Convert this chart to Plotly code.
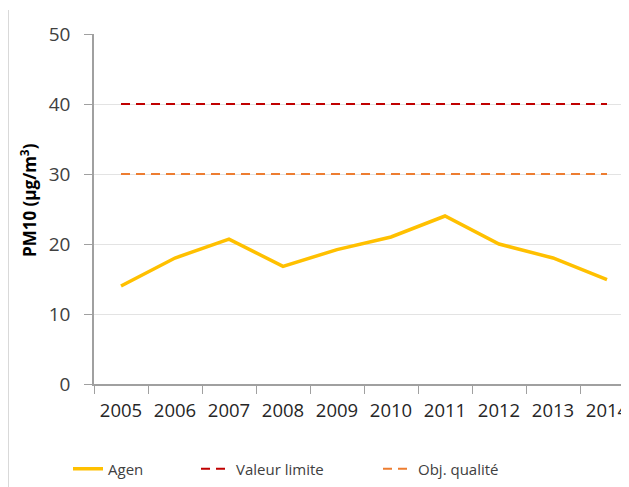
import plotly.graph_objects as go

years = ["2005", "2006", "2007", "2008", "2009", "2010", "2011", "2012", "2013", "2014"]
agen = [14.0, 18.0, 20.7, 16.8, 19.2, 21.0, 24.0, 20.0, 18.0, 14.9]
valeur_limite = [40] * len(years)
obj_qualite = [30] * len(years)
y_ticks = [0, 10, 20, 30, 40, 50]

FONT = "Open Sans"
OFF = 8  # page body margin offset
FW, FH = 629 - OFF, 487 - OFF
L, T, H = 94 - OFF, 34 - OFF, 350
W = FW - L


def px(x):
    return (x - OFF - L) / W


def py(y):
    return (T + H - (y - OFF)) / H


fig = go.Figure()
fig.add_trace(go.Scatter(x=years, y=agen, mode="lines", name="Agen", legend="legend",
                         line=dict(color="#FFC000", width=3.5)))
fig.add_trace(go.Scatter(x=years, y=valeur_limite, mode="lines", name="Valeur limite",
                         legend="legend2",
                         line=dict(color="#C00000", width=2, dash="9px,6px")))
fig.add_trace(go.Scatter(x=years, y=obj_qualite, mode="lines", name="Obj. qualité",
                         legend="legend3",
                         line=dict(color="#ED7D31", width=2, dash="9px,6px")))

leg = dict(orientation="h", yanchor="middle", xanchor="left", y=py(469),
           font=dict(size=15, color="#404040"), bgcolor="rgba(0,0,0,0)")

fig.update_layout(
    width=FW, height=FH,
    margin=dict(l=L, r=0, t=T, b=FH - T - H, autoexpand=False),
    paper_bgcolor="white", plot_bgcolor="white",
    font=dict(family=FONT, color="#404040", size=19),
    showlegend=True,
    legend=dict(leg, x=px(68)),
    legend2=dict(leg, x=px(196)),
    legend3=dict(leg, x=px(378)),
    xaxis=dict(type="category", range=[-0.5, -0.5 + W / 54.0], automargin=False,
               showline=True, linecolor="#A0A0A0", linewidth=1.5,
               ticks="outside", tickson="boundaries", ticklen=8, tickcolor="#A0A0A0",
               ticklabelstandoff=9,
               showgrid=False, tickfont=dict(size=18.5, color="#262626")),
    yaxis=dict(range=[0, 50], tickvals=y_ticks, showline=True, linecolor="#A0A0A0",
               automargin=False,
               linewidth=1.5, ticks="outside", ticklen=8, tickcolor="#A0A0A0",
               showgrid=True, gridcolor="#E3E3E3", gridwidth=1, zeroline=False,
               ticklabelstandoff=10,
               tickfont=dict(size=19, color="#404040")),
    annotations=[dict(text="<b>PM10 (µg/m<sup>3</sup>)</b>", textangle=-90,
                      xref="paper", yref="paper", x=px(28), y=py(200),
                      xanchor="center", yanchor="middle", showarrow=False,
                      font=dict(size=17, color="#000000"))],
)
fig.add_shape(type="line", xref="paper", yref="paper",
              x0=px(8.5), x1=px(8.5), y0=py(10), y1=py(490),
              line=dict(color="#D9D9D9", width=1))
fig.write_html("out.html")
